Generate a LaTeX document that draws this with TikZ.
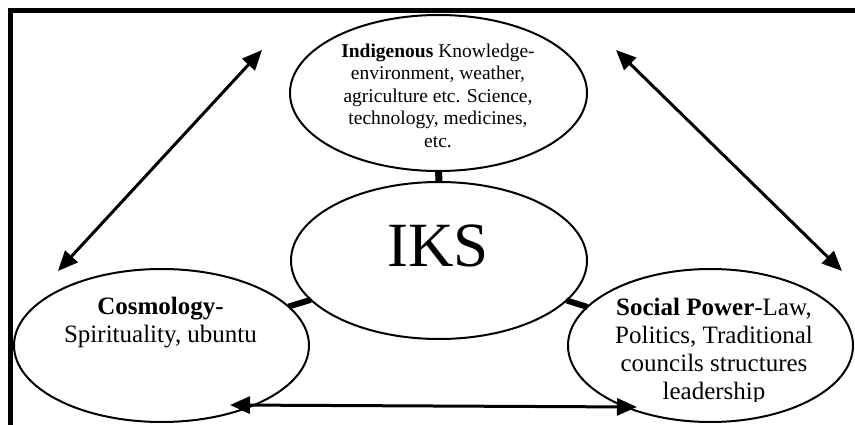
\documentclass[tikz,border=0pt]{standalone}
\usepackage{fontspec}
\setmainfont{Liberation Serif}
\usetikzlibrary{shapes.geometric,arrows.meta}
\begin{document}
\begin{tikzpicture}[x=1pt,y=-1pt,
  oval/.style={draw, ellipse, line width=2pt, inner sep=0pt, outer sep=0pt},
  link/.style={line width=6pt},
  duo/.style={line width=3pt, {Triangle[length=20pt,width=17pt]}-{Triangle[length=20pt,width=17pt]}},
  txt/.style={inner sep=0pt, align=center}]
\useasboundingbox (0,0) rectangle (855,425);
\fill[white] (0,0) rectangle (855,425);
% frame
\draw[line width=5pt, line join=miter] (10.5,430) -- (10.5,10.5) -- (860,10.5);
% ellipses
\node[oval, minimum width=297pt, minimum height=156pt] (top) at (438.5,93) {};
\node[oval, minimum width=296pt, minimum height=157pt] (iks) at (439,260.5) {};
\node[oval, minimum width=295pt, minimum height=153pt] (cos) at (161.5,345.5) {};
\node[oval, minimum width=285pt, minimum height=153pt] (soc) at (710.5,345.5) {};
% links
\draw[line width=7pt] (top) -- (iks);
\draw[link] (iks) -- (cos);
\draw[link] (iks) -- (soc);
% texts
\node[txt, font=\fontsize{19.5pt}{22.5pt}\selectfont] (ttop) at (438,95.4)
  {\textbf{Indigenous} Knowledge-\\environment, weather,\\agriculture etc. Science,\\technology, medicines,\\etc.};
\node[txt, font=\fontsize{63pt}{70pt}\selectfont] (tiks) at (438,246) {IKS};
\node[txt, font=\fontsize{25pt}{28pt}\selectfont] (tcos) at (160.5,323) {\textbf{Cosmology-}\\Spirituality, ubuntu};
\begin{scope}
\clip (560,260) rectangle (860,401.5);
\node[txt, font=\fontsize{25pt}{28pt}\selectfont] (tsoc) at (714,351) {\textbf{Social Power}-Law,\\Politics, Traditional\\councils structures\\leadership};
\end{scope}
% arrows
\coordinate (a1) at (58,271);
\coordinate (a2) at (262,50);
\coordinate (b1) at (616,50);
\coordinate (b2) at (842,271);
\coordinate (c1) at (230,405);
\coordinate (c2) at (637,407);
\draw[duo] (a1) -- (a2);
\draw[duo] (b1) -- (b2);
\draw[duo] (c1) -- (c2);
\end{tikzpicture}
\end{document}
